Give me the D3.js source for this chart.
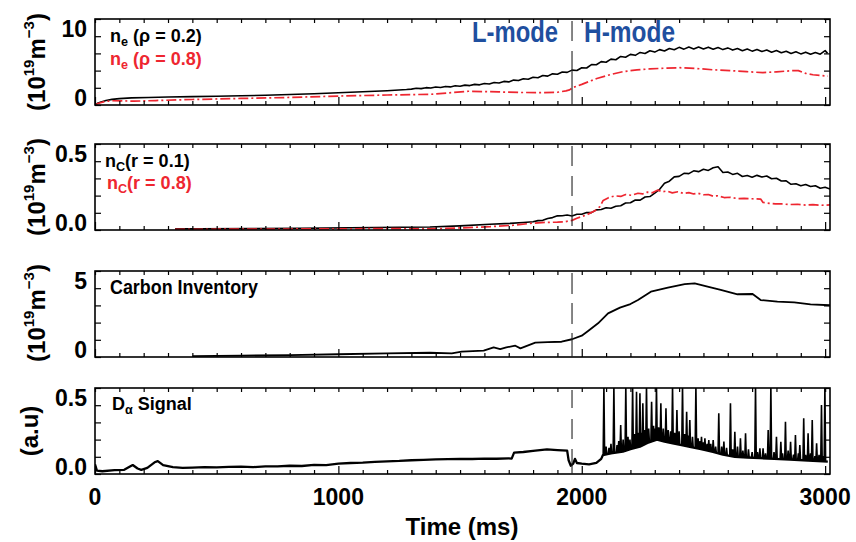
<!DOCTYPE html>
<html>
<head>
<meta charset="utf-8">
<script src="https://cdn.jsdelivr.net/npm/d3@7"></script>
<style>
body { margin: 0; background: #fff; }
svg { display: block; font-family: "Liberation Sans", Arial, sans-serif; font-weight: bold; }
</style>
</head>
<body>
<svg width="856" height="542"></svg>
<script>
// time axis (ms)
const timeTicks = [0, 1000, 2000, 3000];
const lhTime = 1960; // L-H transition

// panel 1: electron density (1e19 m^-3)
const neCore = [[0,0],[10,0.25],[25,0.45],[45,0.65],[70,0.82],[100,0.93],[150,1.03],[220,1.1],[300,1.16],[400,1.22],[500,1.28],[600,1.34],[700,1.42],[800,1.52],[900,1.64],[1000,1.78],[1100,1.92],[1200,2.08],[1280,2.25],
  [1300,2.31],[1320,2.44],[1340,2.38],[1360,2.52],[1380,2.46],[1400,2.61],[1420,2.54],[1440,2.7],[1460,2.63],[1480,2.79],[1500,2.72],[1520,2.89],[1540,2.82],[1560,3.0],[1580,2.93],[1600,3.12],[1620,3.05],[1640,3.28],[1660,3.2],[1680,3.43],[1700,3.36],[1720,3.62],[1740,3.55],[1760,3.82],[1780,3.75],[1800,4.04],[1820,3.96],[1840,4.28],[1860,4.2],[1880,4.53],[1900,4.48],[1920,4.8],[1940,4.74],[1960,5.07],[1980,5.02],
  [2000,5.42],[2020,5.38],[2040,5.88],[2060,5.85],[2080,6.3],[2100,6.22],[2120,6.67],[2140,6.58],[2160,7.06],[2180,6.94],[2200,7.36],[2220,7.22],[2240,7.64],[2260,7.49],[2280,7.89],[2300,7.69],[2320,8.05],[2340,7.85],[2360,8.22],[2380,8.02],[2400,8.38],[2420,8.12],[2440,8.42],[2460,8.15],[2480,8.44],[2500,8.14],[2520,8.41],[2540,8.11],[2560,8.36],[2580,8.05],[2600,8.3],[2620,7.98],[2640,8.21],[2660,7.89],[2680,8.14],[2700,7.83],[2720,8.08],[2740,7.77],[2760,8.0],[2780,7.68],[2800,7.91],[2820,7.59],[2840,7.82],[2860,7.5],[2880,7.74],[2900,7.43],[2920,7.68],[2940,7.37],[2960,7.64],[2980,7.38],[3000,7.9],[3010,7.5]];
const neEdge = [[0,0],[15,0.25],[40,0.5],[70,0.62],[120,0.6],[160,0.55],[250,0.65],[400,0.8],[600,0.95],[800,1.1],[1000,1.3],[1200,1.45],[1376,1.55],[1450,1.75],[1535,2.0],[1600,1.95],[1658,1.9],[1750,1.82],[1828,1.8],[1900,1.85],[1935,2.05],[1950,2.2],[1964,2.55],[2000,3.0],[2062,3.85],[2116,4.4],[2169,4.85],[2227,5.1],[2280,5.25],[2342,5.35],[2403,5.42],[2473,5.3],[2539,5.12],[2609,5.0],[2678,4.85],[2744,4.7],[2800,4.82],[2860,4.98],[2890,5.0],[2920,4.6],[2950,4.4],[3011,4.2]];
const neTickValues = [0, 10];

// panel 2: carbon density (1e19 m^-3)
const ncCore = [[329,0.008],[431,0.008],[637,0.01],[842,0.012],[1048,0.016],[1253,0.02],[1376,0.022],[1499,0.03],[1623,0.042],[1705,0.048],[1760,0.055],
  [1800,0.06],[1820,0.068],[1840,0.07],[1860,0.084],[1880,0.09],[1900,0.103],[1920,0.104],[1940,0.109],[1960,0.102],[1980,0.114],[2000,0.115],[2020,0.127],[2040,0.126],[2060,0.146],[2080,0.149],[2100,0.162],[2120,0.158],[2140,0.173],[2160,0.176],[2180,0.196],[2200,0.198],[2220,0.218],[2240,0.217],[2260,0.24],[2280,0.243],[2300,0.268],[2320,0.296],[2340,0.34],[2360,0.355],[2380,0.386],[2400,0.39],[2420,0.412],[2440,0.41],[2460,0.43],[2480,0.424],[2500,0.441],[2520,0.433],[2540,0.452],[2560,0.46],[2580,0.418],[2600,0.422],[2620,0.404],[2640,0.412],[2660,0.389],[2680,0.396],[2700,0.384],[2720,0.397],[2740,0.385],[2760,0.392],[2780,0.372],[2800,0.376],[2820,0.356],[2840,0.357],[2860,0.332],[2880,0.336],[2900,0.322],[2920,0.331],[2940,0.316],[2960,0.322],[2980,0.304],[3000,0.311],[3020,0.298]];
const ncEdge = [[329,0.005],[600,0.006],[900,0.008],[1200,0.01],[1376,0.008],[1500,0.015],[1623,0.024],[1720,0.035],[1787,0.048],[1850,0.055],[1900,0.057],[1931,0.06],[1960,0.07],[1980,0.085],[2020,0.11],[2054,0.14],[2075,0.17],[2088,0.215],[2110,0.235],[2137,0.248],[2160,0.244],[2180,0.258],[2205,0.252],[2231,0.267],[2250,0.262],[2270,0.275],[2290,0.27],[2313,0.29],[2330,0.278],[2350,0.283],[2372,0.27],[2395,0.278],[2418,0.266],[2440,0.272],[2460,0.262],[2477,0.267],[2500,0.256],[2520,0.258],[2540,0.246],[2558,0.249],[2585,0.236],[2610,0.238],[2640,0.228],[2667,0.23],[2700,0.227],[2735,0.225],[2745,0.2],[2770,0.194],[2795,0.19],[2820,0.19],[2850,0.185],[2886,0.187],[2920,0.181],[2950,0.184],[2985,0.18],[3020,0.182]];
const ncTickValues = [0, 0.5];

// panel 3: carbon inventory
const carbonInv = [[401,0.07],[600,0.1],[800,0.14],[1000,0.2],[1200,0.26],[1376,0.31],[1466,0.27],[1507,0.39],[1597,0.46],[1638,0.7],[1665,0.58],[1690,0.7],[1727,0.82],[1748,0.63],[1809,1.04],[1860,1.08],[1917,1.11],[1960,1.29],[2000,1.55],[2026,1.89],[2067,2.45],[2108,3.17],[2157,3.59],[2200,3.85],[2231,4.14],[2284,4.75],[2354,5.04],[2423,5.3],[2464,5.35],[2517,5.11],[2571,4.87],[2640,4.56],[2702,4.58],[2735,4.14],[2804,4.02],[2873,3.97],[2940,3.83],[3020,3.76]];
const invTickValues = [0, 5];

// panel 4: D-alpha (a.u.) base signal, large ELM spikes and small ELMs [time, peak]
const dAlphaBase = [[0,0.07],[8,0.025],[30,0.02],[80,0.028],[120,0.03],[140,0.05],[155,0.065],[175,0.04],[190,0.03],[215,0.045],[245,0.085],[258,0.094],[280,0.065],[320,0.05],[360,0.045],[400,0.047],[450,0.05],[500,0.048],[550,0.052],[600,0.053],[650,0.05],[700,0.056],[750,0.055],[800,0.06],[850,0.058],[900,0.066],[950,0.064],[1000,0.075],[1050,0.08],[1100,0.083],[1150,0.088],[1200,0.092],[1250,0.095],[1300,0.1],[1350,0.103],[1400,0.107],[1450,0.108],[1500,0.11],[1550,0.109],[1600,0.112],[1650,0.111],[1700,0.114],[1712,0.112],[1722,0.155],[1760,0.16],[1800,0.168],[1857,0.179],[1900,0.174],[1940,0.17],[1946,0.1],[1955,0.06],[1965,0.075],[1972,0.11],[1980,0.08],[2000,0.075],[2030,0.07],[2060,0.08],[2080,0.11],[2087,0.138],[2120,0.15],[2169,0.162],[2200,0.18],[2239,0.198],[2270,0.225],[2309,0.25],[2340,0.235],[2374,0.223],[2410,0.21],[2444,0.198],[2490,0.18],[2539,0.16],[2580,0.14],[2629,0.125],[2680,0.12],[2732,0.115],[2790,0.11],[2855,0.105],[2930,0.098],[3011,0.09]];
const dAlphaSpikes = [[2091,0.64],[2132,0.64],[2160,0.356],[2181,0.64],[2209,0.64],[2225,0.598],[2239,0.586],[2251,0.514],[2266,0.64],[2287,0.525],[2307,0.64],[2325,0.514],[2346,0.477],[2373,0.64],[2391,0.465],[2414,0.64],[2431,0.453],[2444,0.392],[2469,0.64],[2492,0.271],[2506,0.259],[2522,0.247],[2540,0.247],[2563,0.441],[2584,0.235],[2611,0.514],[2629,0.307],[2652,0.259],[2673,0.296],[2714,0.64],[2732,0.187],[2745,0.187],[2766,0.32],[2777,0.64],[2800,0.271],[2818,0.235],[2837,0.38],[2858,0.235],[2878,0.283],[2896,0.211],[2912,0.405],[2930,0.296],[2947,0.392],[2965,0.223],[2985,0.501],[2999,0.64]];
const dAlphaSmall = [[2100,0.2],[2112,0.19],[2120,0.22],[2145,0.21],[2152,0.24],[2170,0.25],[2190,0.27],[2198,0.25],[2217,0.29],[2232,0.3],[2246,0.3],[2258,0.32],[2275,0.33],[2295,0.35],[2300,0.33],[2316,0.34],[2335,0.33],[2355,0.32],[2365,0.31],[2382,0.3],[2400,0.31],[2423,0.29],[2438,0.28],[2455,0.27],[2478,0.26],[2486,0.24],[2500,0.23],[2515,0.22],[2530,0.22],[2550,0.2],[2575,0.2],[2595,0.19],[2620,0.18],[2640,0.2],[2662,0.17],[2685,0.18],[2700,0.16],[2722,0.16],[2755,0.15],[2790,0.16],[2825,0.15],[2848,0.17],[2870,0.14],[2890,0.15],[2920,0.14],[2940,0.15],[2958,0.13],[2975,0.14],[2992,0.13]];
const daTickValues = [0, 0.5];

const red = "#ee2630", blue = "#1f4f9f";
const svg = d3.select("svg");
const x = d3.scaleLinear().domain([0, 3020]).range([95, 830]);

const panels = [
  { top: 19,  bottom: 105, yMax: 12.5,  yStep: 2.5,   ticks: neTickValues,  fmt: d3.format("d"),   title: "dens", cy: 62,  dash: "20,10,200" },
  { top: 144, bottom: 230, yMax: 0.625, yStep: 0.125, ticks: ncTickValues,  fmt: d3.format(".1f"), title: "dens", cy: 187, dash: "20,10" },
  { top: 271, bottom: 357, yMax: 6.25,  yStep: 1.25,  ticks: invTickValues, fmt: d3.format("d"),   title: "dens", cy: 313, dash: "21,9,21,9,200" },
  { top: 388, bottom: 474, yMax: 0.625, yStep: 0.125, ticks: daTickValues,  fmt: d3.format(".1f"), title: "au",   cy: 431, dash: "18,11,20,10,200" }
];

panels.forEach((p, i) => {
  p.y = d3.scaleLinear().domain([0, p.yMax]).range([p.bottom, p.top]);
  const g = svg.append("g");
  svg.append("clipPath").attr("id", "clip" + i)
    .append("rect").attr("x", 95).attr("y", p.top).attr("width", 735).attr("height", p.bottom - p.top);
  p.plot = g.append("g").attr("clip-path", `url(#clip${i})`);

  const minorX = d3.range(0, 3001, 100);
  const yTicks = d3.range(0, p.yMax + 1e-9, p.yStep);

  g.append("g").attr("transform", `translate(0,${p.bottom})`)
    .call(d3.axisBottom(x).tickValues(minorX.filter(t => t % 1000)).tickSize(-4).tickFormat(""));
  g.append("g").attr("transform", `translate(0,${p.bottom})`)
    .call(d3.axisBottom(x).tickValues(timeTicks).tickSize(-8).tickFormat(""));
  g.append("g").attr("transform", `translate(0,${p.top})`)
    .call(d3.axisTop(x).tickValues(minorX).tickSize(-4).tickFormat(""));
  g.append("g").attr("transform", "translate(95,0)")
    .call(d3.axisLeft(p.y).tickValues(yTicks).tickSize(-6).tickFormat(""));
  g.append("g").attr("transform", "translate(830,0)")
    .call(d3.axisRight(p.y).tickValues(yTicks).tickSize(-6).tickFormat(""));
  g.selectAll(".domain").remove();
  g.selectAll(".tick line").attr("stroke", "#000").attr("stroke-width", 1.2);

  g.append("rect").attr("x", 95).attr("y", p.top).attr("width", 735).attr("height", p.bottom - p.top)
    .attr("fill", "none").attr("stroke", "#000").attr("stroke-width", 1.6);

  g.selectAll(".ylab").data(p.ticks).join("text")
    .attr("x", 87).attr("y", d => p.y(d) + 1)
    .attr("text-anchor", "end").attr("font-size", 23)
    .text(d => p.fmt(d));

  // L-H transition marker
  g.append("line").attr("x1", x(lhTime)).attr("x2", x(lhTime))
    .attr("y1", p.top + 2).attr("y2", p.bottom)
    .attr("stroke", "#222").attr("stroke-width", 1.1).attr("stroke-dasharray", p.dash);

  // y title
  const t = g.append("text").attr("text-anchor", "middle").attr("font-size", 24);
  if (p.title === "dens") {
    t.attr("transform", `translate(45,${p.cy}) rotate(-90)`);
    t.append("tspan").text("(10");
    t.append("tspan").attr("dy", -11).attr("font-size", 15).text("19");
    t.append("tspan").attr("dy", 11).text("m");
    t.append("tspan").attr("dy", -11).attr("font-size", 15).text("\u22123");
    t.append("tspan").attr("dy", 11).text(")");
  } else {
    t.attr("transform", `translate(38,${p.cy}) rotate(-90)`).text("(a.u)");
  }
});

function drawLine(p, data, color, dash, width) {
  const line = d3.line().x(d => x(d[0])).y(d => p.y(d[1]));
  p.plot.append("path").datum(data).attr("d", line)
    .attr("fill", "none").attr("stroke", color).attr("stroke-width", width || 1.6)
    .attr("stroke-linejoin", "round")
    .attr("stroke-dasharray", dash || null);
}

drawLine(panels[0], neCore, "#000");
drawLine(panels[0], neEdge, red, "10,3,2,3", 1.7);
drawLine(panels[1], ncCore, "#000");
drawLine(panels[1], ncEdge, red, "10,3,2,3", 1.7);
drawLine(panels[2], carbonInv, "#000", null, 1.8);

// D-alpha: base trace, then ELM spikes rising from it
const bis = d3.bisector(d => d[0]).right;
function baseAt(t) {
  const i = bis(dAlphaBase, t);
  const a = dAlphaBase[Math.max(0, i - 1)], b = dAlphaBase[Math.min(dAlphaBase.length - 1, i)];
  if (a === b) return a[1];
  return a[1] + (b[1] - a[1]) * (t - a[0]) / (b[0] - a[0]);
}
drawLine(panels[3], dAlphaBase, "#000", null, 2.3);
const pa = panels[3];
const spikePath = dAlphaSpikes.concat(dAlphaSmall).map(([t, v]) =>
  `M${x(t - 3)},${pa.y(baseAt(t - 3))}L${x(t)},${pa.y(v)}L${x(t + 3)},${pa.y(baseAt(t + 3))}`).join("");
pa.plot.append("path").attr("d", spikePath).attr("fill", "none")
  .attr("stroke", "#000").attr("stroke-width", 1.6).attr("stroke-linejoin", "miter");

// annotations
function label(px, py, size, color, parts, width) {
  const t = svg.append("text").attr("x", px).attr("y", py).attr("font-size", size).attr("fill", color)
    .style("font-family", "'Liberation Sans Narrow','Arial Narrow','Liberation Sans',Arial,sans-serif");
  if (width) t.attr("textLength", width).attr("lengthAdjust", "spacingAndGlyphs");
  parts.forEach(([s, sub]) => {
    const ts = t.append("tspan").text(s);
    if (sub === 1) ts.attr("font-size", size * 0.7).attr("dy", 4);
    if (sub === -1) ts.attr("dy", -4);
  });
}
label(110, 42, 18, "#000", [["n"], ["e", 1], [" (\u03c1 = 0.2)", -1]]);
label(110, 65, 18, red, [["n"], ["e", 1], [" (\u03c1 = 0.8)", -1]]);
label(105, 167, 18, "#000", [["n"], ["C", 1], ["(r  = 0.1)", -1]]);
label(107, 189, 18, red, [["n"], ["C", 1], ["(r  = 0.8)", -1]]);
label(110, 294, 21, "#000", [["Carbon Inventory"]], 148);
label(112, 410, 18, "#000", [["D"], ["\u03b1", 1], [" Signal", -1]]);
label(472, 42, 29, blue, [["L-mode"]], 86);
label(584, 42, 29, blue, [["H-mode"]], 91);

// bottom time labels
svg.selectAll(".xlab").data(timeTicks).join("text")
  .attr("x", d => x(d)).attr("y", 505).attr("text-anchor", "middle").attr("font-size", 23)
  .text(d => d);
svg.append("text").attr("x", 462).attr("y", 535).attr("text-anchor", "middle")
  .attr("font-size", 24).text("Time (ms)");
</script>
</body>
</html>
